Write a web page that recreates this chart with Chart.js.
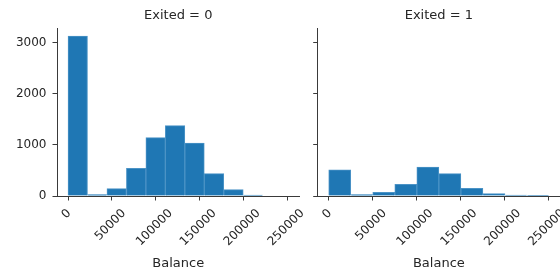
<!DOCTYPE html>
<html>
<head>
<meta charset="utf-8">
<script src="https://cdn.jsdelivr.net/npm/chart.js@4/dist/chart.umd.min.js"></script>
<style>
  body { margin: 0; background: #fff; }
  #wrap { position: relative; width: 560px; height: 272px; }
  canvas { position: absolute; left: 0; top: 0; }
</style>
</head>
<body>
<div id="wrap">
  <canvas id="left" width="560" height="272"></canvas>
  <canvas id="right" width="560" height="272"></canvas>
</div>
<script>
// bin centres of the two histograms (Balance)
let binMid0 = [11077, 33230, 55383, 77537, 99690, 121843, 143996, 166150, 188303, 210456];
let binMid1 = [12545, 37635, 62725, 87814, 112904, 137994, 163084, 188174, 213263, 238353];

// counts per bin
let count0 = [3131, 26, 143, 541, 1141, 1376, 1037, 437, 124, 20];
let count1 = [512, 27, 72, 228, 566, 437, 150, 47, 20, 2];

let titles = ['Exited = 0', 'Exited = 1'];
let xTicks = [0, 50000, 100000, 150000, 200000, 250000];
let yTicks = [0, 1000, 2000, 3000];

let xMin = -12545;
let xMax = 263443;
let yMax = Math.max(...count0, ...count1) * 1.05;

const barColor = '#1f77b4';
const textColor = '#262626';
const lineColor = '#3a3a3a';
const fontName = '"DejaVu Sans", sans-serif';

// matplotlib style rotated labels, centred under the tick
const rotatedTicks = {
    id: 'rotatedTicks',
    afterDraw(chart) {
        const scale = chart.scales.x;
        const ctx = chart.ctx;
        ctx.save();
        ctx.font = '12px ' + fontName;
        ctx.fillStyle = textColor;
        ctx.textAlign = 'center';
        ctx.textBaseline = 'middle';
        scale.ticks.forEach(t => {
            const label = String(t.value);
            const w = ctx.measureText(label).width;
            const side = (w + 12 * 1.164) * Math.SQRT1_2;
            const x = scale.getPixelForValue(t.value) - 1.5;
            const y = scale.top + 10.5 + side / 2;
            ctx.save();
            ctx.translate(x, y);
            ctx.rotate(-Math.PI / 4);
            ctx.fillText(label, 0, 0);
            ctx.restore();
        });
        ctx.restore();
    }
};

function makeChart(id, title, mids, counts, showY, padLeft, padRight, yWidth) {
    const data = {
        datasets: [{
            data: mids.map((m, i) => ({x: m, y: counts[i]})),
            backgroundColor: barColor,
            borderColor: '#4b93c6',
            borderWidth: 1,
            barPercentage: 1,
            categoryPercentage: 1,
        }]
    };
    const config = {
        type: 'bar',
        data: data,
        options: {
            responsive: false,
            animation: false,
            layout: { padding: { left: padLeft, right: padRight, top: 0, bottom: 0 } },
            plugins: {
                legend: { display: false },
                tooltip: { enabled: false },
                title: {
                    display: true,
                    text: title,
                    fullSize: false,
                    color: textColor,
                    font: { family: fontName, size: 13, weight: 'normal' },
                    padding: { top: 8, bottom: 4.4 }
                }
            },
            scales: {
                x: {
                    type: 'linear',
                    min: xMin,
                    max: xMax,
                    offset: false,
                    afterBuildTicks: s => { s.ticks = xTicks.map(v => ({value: v})); },
                    afterFit: s => { s.height = 76; },
                    ticks: { display: false },
                    grid: { drawOnChartArea: false, drawTicks: true, tickLength: 4.5, color: lineColor, offset: false },
                    border: { display: true, color: lineColor, width: 1 },
                    title: {
                        display: true,
                        text: 'Balance',
                        color: textColor,
                        font: { family: fontName, size: 13 },
                        padding: { top: 0, bottom: 0.8 }
                    }
                },
                y: {
                    min: 0,
                    max: yMax,
                    afterBuildTicks: s => { s.ticks = yTicks.map(v => ({value: v})); },
                    afterFit: s => { s.width = yWidth; },
                    ticks: {
                        display: showY,
                        color: textColor,
                        padding: 6,
                        font: { family: fontName, size: 12 },
                        callback: v => String(v)
                    },
                    grid: { drawOnChartArea: false, drawTicks: true, tickLength: 4.5, color: lineColor },
                    border: { display: true, color: lineColor, width: 1 }
                }
            }
        },
        plugins: [rotatedTicks]
    };
    return new Chart(document.getElementById(id), config);
}

var leftChart = makeChart('left', titles[0], binMid0, count0, true, 0, 260.5, 57);
var rightChart = makeChart('right', titles[1], binMid1, count1, false, 300, 0, 17.7);
</script>
</body>
</html>
